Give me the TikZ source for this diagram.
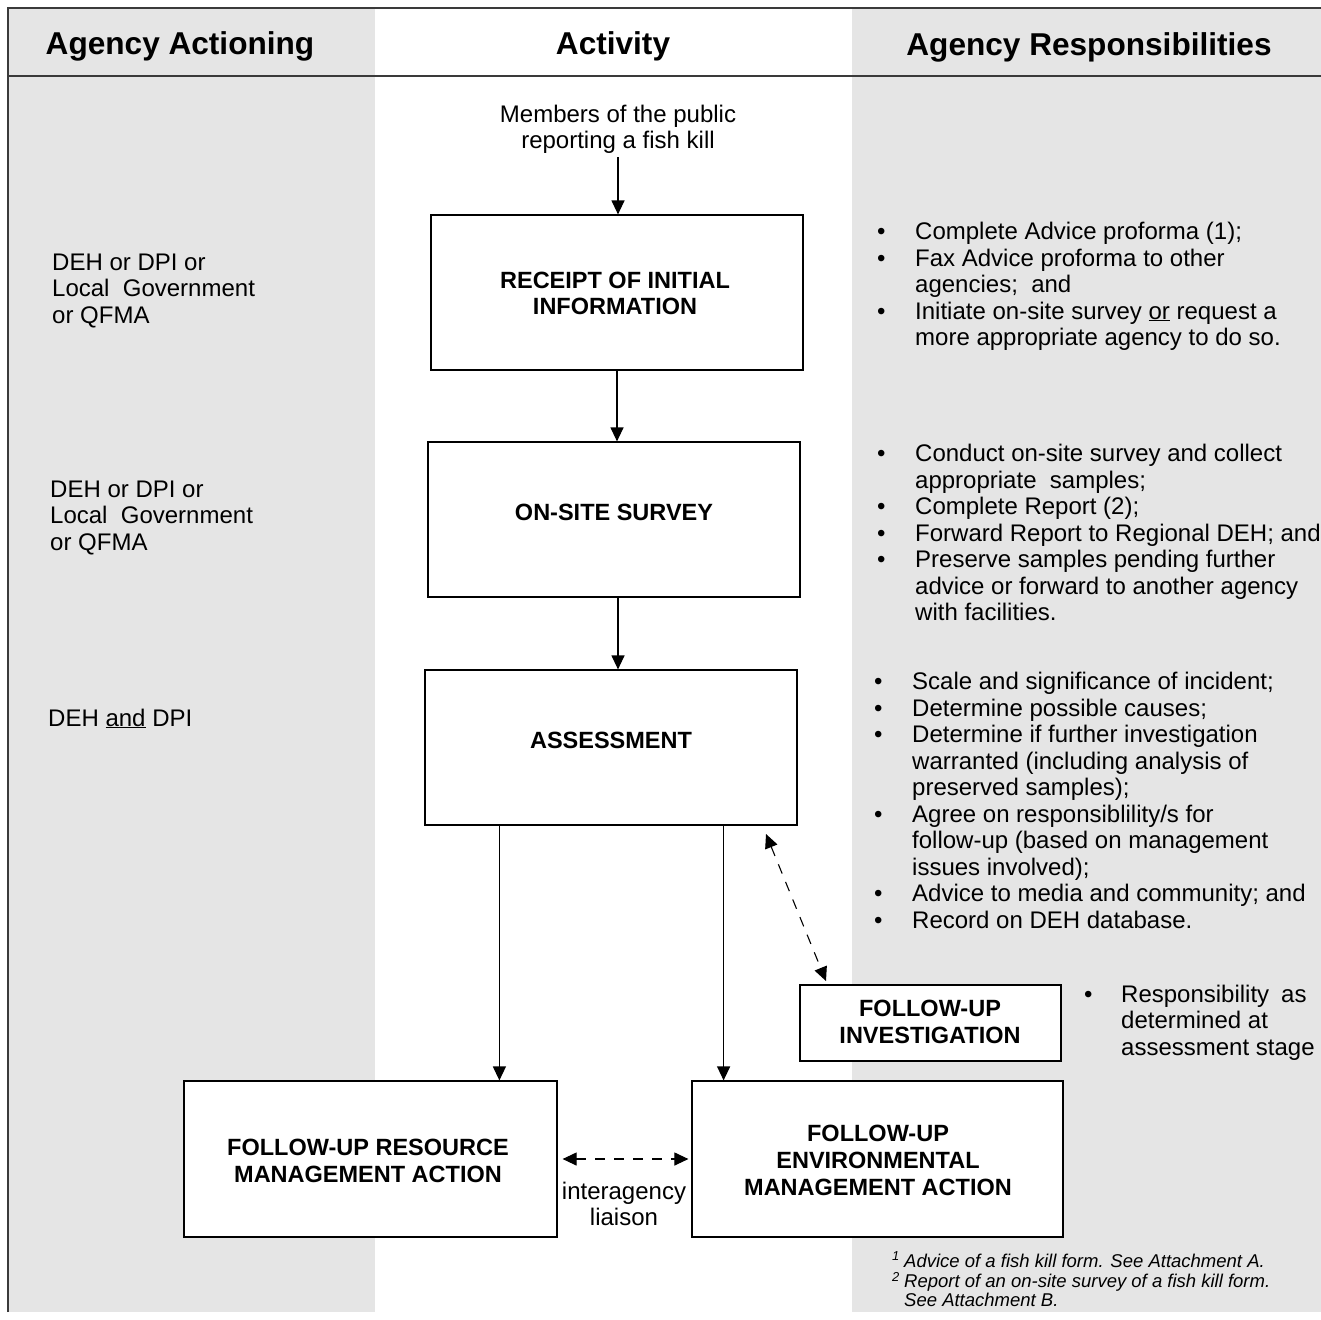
\documentclass[tikz,border=0pt]{standalone}
\usepackage{fontspec}
\setmainfont{Liberation Sans}
\usetikzlibrary{arrows.meta}
\definecolor{bandgray}{HTML}{E5E5E5}
\definecolor{rulegray}{HTML}{3A3A3A}
\begin{document}
\begin{tikzpicture}[x=1pt,y=-1pt,
  boxnode/.style={draw=black, line width=1.2pt, fill=white, inner sep=0pt},
  boxtext/.style={inner sep=0pt, font=\fontsize{23.5}{26.5}\selectfont\bfseries},
  body/.style={inner sep=0pt, font=\fontsize{24}{26.5}\selectfont},
  head/.style={inner sep=0pt, font=\fontsize{31.6}{36}\selectfont\bfseries},
  note/.style={inner sep=0pt, font=\fontsize{18.5}{18.5}\selectfont\itshape},
  arr/.style={line width=1.2pt, -{Triangle[length=14pt,width=13pt]}},
  dasharr/.style={line width=1.1pt, dash pattern=on 10pt off 9pt,
     {Triangle[length=14pt,width=13pt]}-{Triangle[length=14pt,width=13pt]}}
]
\useasboundingbox (0,0) rectangle (1321,1319);
% column bands
\fill[bandgray] (8,8) rectangle (375,1312);
\fill[bandgray] (852,8) rectangle (1321,1312);
% frame
\draw[rulegray, line width=1.8pt] (8,1312) -- (8,8) -- (1321,8);
\draw[rulegray, line width=1.8pt] (8,76) -- (1321,76);

% headers
\node[head, anchor=base] (h1) at (180,55) {Agency Actioning};
\node[head, anchor=base] (h2) at (613,55) {Activity};
\node[head, anchor=base] (h3) at (1089,56) {Agency Responsibilities};

% public
\node[body, anchor=base] (pub) at (618,122)
  {\begin{tabular}[t]{@{}c@{}}Members of the public\\reporting a fish kill\end{tabular}};

% boxes
\node[boxnode, minimum width=372pt, minimum height=155pt] (b1) at (617,292.5) {};
\node[boxnode, minimum width=372pt, minimum height=155pt] (b2) at (614,519.5) {};
\node[boxnode, minimum width=372pt, minimum height=155pt] (b3) at (611,747.5) {};
\node[boxnode, minimum width=261pt, minimum height=76pt] (inv) at (930.5,1023) {};
\node[boxnode, minimum width=373pt, minimum height=156pt] (res) at (370.5,1159) {};
\node[boxnode, minimum width=371pt, minimum height=156pt] (env) at (877.5,1159) {};

\node[boxtext, anchor=base] (t1) at (615,288)
  {\begin{tabular}[t]{@{}c@{}}RECEIPT OF INITIAL\\INFORMATION\end{tabular}};
\node[boxtext, anchor=base] (t2) at (614,520.5) {ON-SITE SURVEY};
\node[boxtext, anchor=base] (t3) at (611,748.5) {ASSESSMENT};
\node[boxtext, anchor=base] (t4) at (930,1016.5)
  {\begin{tabular}[t]{@{}c@{}}FOLLOW-UP\\INVESTIGATION\end{tabular}};
\node[boxtext, anchor=base] (t5) at (368,1155.5)
  {\begin{tabular}[t]{@{}c@{}}FOLLOW-UP RESOURCE\\MANAGEMENT ACTION\end{tabular}};
\node[boxtext, anchor=base] (t6) at (878,1141.5)
  {\begin{tabular}[t]{@{}c@{}}FOLLOW-UP\\[0.5pt]ENVIRONMENTAL\\[0.5pt]MANAGEMENT ACTION\end{tabular}};

% connectors
\draw[arr] (pub.south |- 0,157) -- (pub.south |- b1.north);
\draw[arr] (b1.south) -- (b1.south |- b2.north);
\draw[arr] ([xshift=4pt]b2.south) -- ([xshift=4pt]b2.south |- b3.north);
\draw[arr] ([xshift=75pt]b3.south west) -- ([xshift=75pt]b3.south west |- res.north);
\draw[arr] ([xshift=-74pt]b3.south east) -- ([xshift=-74pt]b3.south east |- env.north);
\coordinate (dA) at (766,834);
\coordinate (dB) at (826,981);
\draw[dasharr] (dA) -- (dB);
\draw[dasharr] ([xshift=5pt]res.east) -- ([xshift=-3pt]env.west);
\node[body, anchor=base] (liaison) at (624,1199)
  {\begin{tabular}[t]{@{}c@{}}interagency\\liaison\end{tabular}};

% left column
\node[body, anchor=base west] (a1) at (52,270)
  {\begin{tabular}[t]{@{}l@{}}DEH or DPI or\\Local\ \ Government\\or QFMA\end{tabular}};
\node[body, anchor=base west] (a2) at (50,497)
  {\begin{tabular}[t]{@{}l@{}}DEH or DPI or\\Local\ \ Government\\or QFMA\end{tabular}};
\node[body, anchor=base west] (a3) at (48,726) {DEH \underline{and} DPI};

% right column
\node[body, anchor=base west] (r1) at (877,239.5)
  {\begin{tabular}[t]{@{}p{38pt}@{}l@{}}
   \textbullet & Complete Advice proforma (1);\\
   \textbullet & Fax Advice proforma to other\\
               & agencies;\ \ and\\
   \textbullet & Initiate on-site survey \underline{or} request a\\
               & more appropriate agency to do so.
  \end{tabular}};
\node[body, anchor=base west] (r2) at (877,461.5)
  {\begin{tabular}[t]{@{}p{38pt}@{}l@{}}
   \textbullet & Conduct on-site survey and collect\\
               & appropriate\ \ samples;\\
   \textbullet & Complete Report (2);\\
   \textbullet & Forward Report to Regional DEH; and\\
   \textbullet & Preserve samples pending further\\
               & advice or forward to another agency\\
               & with facilities.
  \end{tabular}};
\node[body, anchor=base west] (r3) at (874,689.5)
  {\begin{tabular}[t]{@{}p{38pt}@{}l@{}}
   \textbullet & Scale and significance of incident;\\
   \textbullet & Determine possible causes;\\
   \textbullet & Determine if further investigation\\
               & warranted (including analysis of\\
               & preserved samples);\\
   \textbullet & Agree on responsiblility/s for\\
               & follow-up (based on management\\
               & issues involved);\\
   \textbullet & Advice to media and community; and\\
   \textbullet & Record on DEH database.
  \end{tabular}};
\node[body, anchor=base west] (r4) at (1084,1002)
  {\begin{tabular}[t]{@{}p{37pt}@{}l@{}}
   \textbullet & Responsibility\hspace{12pt}as\\
               & determined at\\
               & assessment stage
  \end{tabular}};

% footnotes
\node[note, anchor=base west] (fn) at (892,1267)
  {\begin{tabular}[t]{@{}p{12pt}@{}l@{}}
   \textsuperscript{1} & Advice of a fish kill form. See Attachment A.\\
   \textsuperscript{2} & Report of an on-site survey of a fish kill form.\\
                       & See Attachment B.
  \end{tabular}};
\end{tikzpicture}
\end{document}
